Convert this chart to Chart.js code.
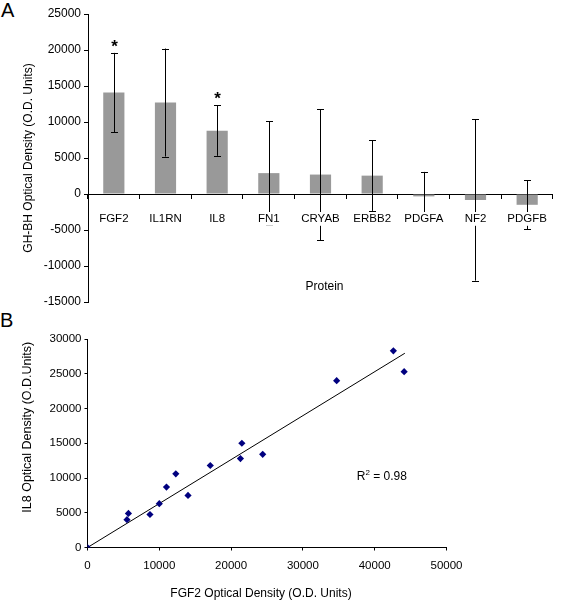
<!DOCTYPE html>
<html>
<head>
<meta charset="utf-8">
<script src="https://cdn.jsdelivr.net/npm/chart.js@4.4.1/dist/chart.umd.min.js"></script>
<style>
  html, body { margin: 0; padding: 0; background: #ffffff; }
  body { width: 561px; height: 601px; position: relative; overflow: hidden; font-family: "Liberation Sans", Arial, sans-serif; }
  .panel { position: absolute; left: 0; }
  .letter { position: absolute; font-size: 20px; line-height: 20px; color: #000; }
</style>
</head>
<body>
<div class="letter" style="left:1px; top:0px;">A</div>
<div class="letter" style="left:0px; top:310px;">B</div>
<div class="panel" style="top:0px; width:561px; height:310px;"><canvas id="chartA" width="561" height="310"></canvas></div>
<div class="panel" style="top:310px; width:561px; height:291px;"><canvas id="chartB" width="561" height="291"></canvas></div>
<script>
// ---- Panel A data ----
const proteins = ['FGF2', 'IL1RN', 'IL8', 'FN1', 'CRYAB', 'ERBB2', 'PDGFA', 'NF2', 'PDGFB'];
const meanOD = [14100, 12700, 8800, 2900, 2700, 2550, -330, -830, -1500];
const errorOD = [5500, 7500, 3500, 7200, 9100, 4900, 3400, 11200, 3400];
const significant = [true, false, true, false, false, false, false, false, false];
const yRangeA = [-15000, 25000];
const yStepA = 5000;

// ---- Panel B data ----
const fgf2OD = [0, 5500, 5700, 8700, 10000, 11000, 12300, 14000, 17100, 21300, 21500, 24400, 34700, 42600, 44100];
const il8OD = [0, 4000, 4900, 4750, 6300, 8700, 10600, 7500, 11800, 12800, 15000, 13400, 24000, 28300, 25300];
const trendX = [0, 44200];
const trendY = [0, 27950];
const rSquaredText = '0.98';
const xRangeB = [0, 50000];
const yRangeB = [0, 30000];
const stepXB = 10000;
const stepYB = 5000;

const FONT = '"Liberation Sans", Arial, sans-serif';
Chart.defaults.font.family = FONT;
Chart.defaults.color = '#000000';
Chart.defaults.animation = false;
const plainNumber = (v) => String(v);

// Error bars + asterisks + x title for panel A
const errorBarPlugin = {
  id: 'errorBars',
  afterDatasetsDraw(chart) {
    const ctx = chart.ctx;
    const xs = chart.scales.x, ys = chart.scales.y;
    ctx.save();
    ctx.strokeStyle = '#000000';
    ctx.lineWidth = 1;
    meanOD.forEach((v, i) => {
      const x = Math.round(xs.getPixelForValue(i)) + 0.5;
      const yTop = ys.getPixelForValue(v + errorOD[i]);
      const yBot = ys.getPixelForValue(v - errorOD[i]);
      ctx.beginPath();
      ctx.moveTo(x, yTop); ctx.lineTo(x, yBot);
      ctx.moveTo(x - 3.5, Math.round(yTop) + 0.5); ctx.lineTo(x + 3.5, Math.round(yTop) + 0.5);
      ctx.moveTo(x - 3.5, Math.round(yBot) + 0.5); ctx.lineTo(x + 3.5, Math.round(yBot) + 0.5);
      ctx.stroke();
      if (significant[i]) {
        ctx.fillStyle = '#000000';
        ctx.font = 'bold 17px ' + FONT;
        ctx.textAlign = 'center';
        ctx.textBaseline = 'alphabetic';
        ctx.fillText('*', x, yTop - 1);
      }
    });
    ctx.restore();
  },
  afterDraw(chart) {
    const ctx = chart.ctx;
    const ca = chart.chartArea;
    ctx.save();
    ctx.fillStyle = '#000000';
    ctx.font = '12px ' + FONT;
    ctx.textAlign = 'center';
    ctx.textBaseline = 'middle';
    ctx.fillText('Protein', (ca.left + ca.right) / 2 + 4, ca.bottom - 15);
    ctx.restore();
  }
};

new Chart(document.getElementById('chartA'), {
  type: 'bar',
  data: {
    labels: proteins,
    datasets: [{
      data: meanOD,
      backgroundColor: '#999999',
      borderWidth: 0,
      categoryPercentage: 1.0,
      barPercentage: 0.41
    }]
  },
  options: {
    responsive: false,
    layout: { padding: { left: 0, right: 0.5, top: 14, bottom: 8 } },
    plugins: { legend: { display: false }, tooltip: { enabled: false } },
    scales: {
      x: {
        type: 'category',
        position: { y: 0 },
        offset: true,
        grid: { offset: true, drawOnChartArea: false, drawTicks: true, tickLength: 4, color: '#000000' },
        border: { display: true, color: '#000000', width: 1 },
        ticks: {
          z: 1,
          font: { size: 11.5 },
          padding: 14,
          maxRotation: 0,
          autoSkip: false,
          showLabelBackdrop: true,
          backdropColor: '#ffffff',
          backdropPadding: 0
        }
      },
      y: {
        min: yRangeA[0],
        max: yRangeA[1],
        afterFit(s) { s.width = 88; s.paddingTop = 0; s.paddingBottom = 0; },
        grid: { drawOnChartArea: false, drawTicks: true, tickLength: 4, color: '#000000' },
        border: { display: true, color: '#000000', width: 1 },
        ticks: { stepSize: yStepA, font: { size: 12 }, padding: 3, callback: plainNumber },
        title: {
          display: true,
          text: 'GH-BH Optical Density (O.D. Units)',
          font: { size: 12 },
          padding: { top: 21, bottom: 0 }
        }
      }
    }
  },
  plugins: [errorBarPlugin]
});

// R^2 annotation and axis titles for panel B
const panelBTextPlugin = {
  id: 'panelBText',
  afterDraw(chart) {
    const ctx = chart.ctx;
    const xs = chart.scales.x, ys = chart.scales.y;
    const ca = chart.chartArea;
    const cx = xs.getPixelForValue(41000);
    const cy = ys.getPixelForValue(10300);
    ctx.save();
    ctx.fillStyle = '#000000';
    ctx.textBaseline = 'alphabetic';
    ctx.textAlign = 'left';
    ctx.font = '12px ' + FONT;
    const rest = ' = ' + rSquaredText;
    const wR = ctx.measureText('R').width;
    const wRest = ctx.measureText(rest).width;
    ctx.font = '8px ' + FONT;
    const w2 = ctx.measureText('2').width;
    const total = wR + w2 + wRest;
    let x = cx - total / 2;
    const base = cy + 4.5;
    ctx.font = '12px ' + FONT;
    ctx.fillText('R', x, base);
    x += wR;
    ctx.font = '8px ' + FONT;
    ctx.fillText('2', x, base - 5);
    x += w2;
    ctx.font = '12px ' + FONT;
    ctx.fillText(rest, x, base);
    // x-axis title
    ctx.textAlign = 'center';
    ctx.textBaseline = 'middle';
    ctx.fillText('FGF2 Optical Density (O.D. Units)', (ca.left + ca.right) / 2 - 6, chart.height - 7);
    // y-axis title
    ctx.translate(28, (ca.top + ca.bottom) / 2 - 16);
    ctx.rotate(-Math.PI / 2);
    ctx.font = '12.5px ' + FONT;
    ctx.fillText('IL8 Optical Density (O.D.Units)', 0, 0);
    ctx.restore();
  }
};

new Chart(document.getElementById('chartB'), {
  type: 'scatter',
  data: {
    datasets: [
      {
        type: 'scatter',
        data: fgf2OD.map((v, i) => ({ x: v, y: il8OD[i] })),
        pointStyle: 'rectRot',
        pointRadius: 3.6,
        backgroundColor: '#00007f',
        borderColor: '#00007f',
        borderWidth: 0,
        order: 1
      },
      {
        type: 'line',
        data: trendX.map((v, i) => ({ x: v, y: trendY[i] })),
        borderColor: '#000000',
        borderWidth: 1,
        pointRadius: 0,
        fill: false,
        order: 2
      }
    ]
  },
  options: {
    responsive: false,
    layout: { padding: { left: 0, right: 114.5, top: 29, bottom: 0 } },
    plugins: { legend: { display: false }, tooltip: { enabled: false } },
    scales: {
      x: {
        type: 'linear',
        min: xRangeB[0],
        max: xRangeB[1],
        afterFit(s) { s.height = 53.5; },
        grid: { drawOnChartArea: false, drawTicks: true, tickLength: 3, color: '#000000' },
        border: { display: true, color: '#000000', width: 1 },
        ticks: { stepSize: stepXB, font: { size: 11.5 }, padding: 8, maxRotation: 0, callback: plainNumber }
      },
      y: {
        type: 'linear',
        min: yRangeB[0],
        max: yRangeB[1],
        afterFit(s) { s.width = 87.5; s.paddingTop = 0; s.paddingBottom = 0; },
        grid: { drawOnChartArea: false, drawTicks: true, tickLength: 3, color: '#000000' },
        border: { display: true, color: '#000000', width: 1 },
        ticks: { stepSize: stepYB, font: { size: 11.5 }, padding: 3, callback: plainNumber }
      }
    }
  },
  plugins: [panelBTextPlugin]
});
</script>
</body>
</html>
